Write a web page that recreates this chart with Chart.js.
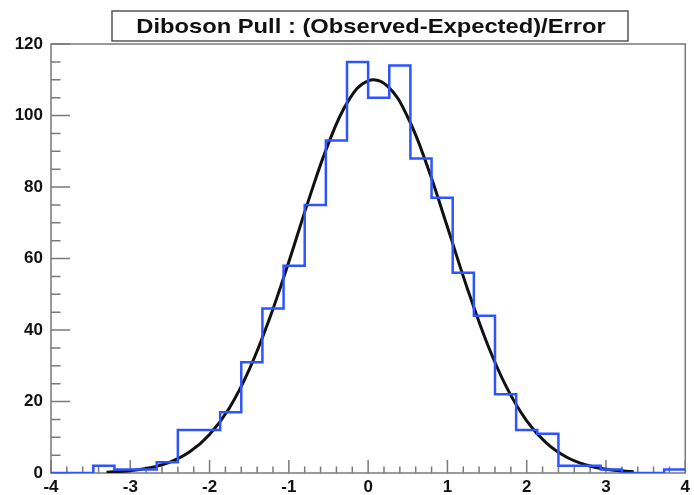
<!DOCTYPE html>
<html>
<head>
<meta charset="utf-8">
<script src="https://cdn.jsdelivr.net/npm/chart.js@4.4.1/dist/chart.umd.min.js"></script>
<style>
  body { margin: 0; background: #fff; }
  canvas { display: block; }
</style>
</head>
<body>
<canvas id="pullChart" width="694" height="495"></canvas>
<script>
// histogram: 30 bins from -4 to 4
const xMin = -4;
const xMax = 4;
const binCounts = [0, 0, 2, 1, 1, 3, 12, 12, 17, 31, 46, 58, 75, 93, 115,
                   105, 114, 88, 77, 56, 44, 22, 12, 11, 2, 2, 1, 0, 0, 1];

// gaussian fit curve
const fitX = [-3.3, -3, -2.75, -2.5, -2.25, -2, -1.75, -1.5, -1.25, -1, -0.75, -0.5, -0.25, 0,
              0.25, 0.5, 0.75, 1, 1.25, 1.5, 1.75, 2, 2.25, 2.5, 2.75, 3, 3.35];
const fitY = [0.24, 0.66, 1.47, 3.06, 5.93, 10.8, 18.2, 28.9, 42.8, 59.1, 76.4, 92.2, 104.1, 109.7,
              108.1, 99.5, 85.6, 68.8, 51.7, 36.3, 23.8, 14.6, 8.35, 4.47, 2.23, 1.04, 0.33];

const xTicks = [-4, -3, -2, -1, 0, 1, 2, 3, 4];
const yTicks = [0, 20, 40, 60, 80, 100, 120];
const title = 'Diboson Pull : (Observed-Expected)/Error';

const axisColor = '#7a7a7a';
const labelFont = { family: '"Liberation Sans", Arial, sans-serif', size: 17, weight: 'bold' };

const binWidth = (xMax - xMin) / binCounts.length;
const histPoints = binCounts.map((c, i) => ({ x: xMin + i * binWidth, y: c }));
histPoints.push({ x: xMax, y: binCounts[binCounts.length - 1] });
const fitPoints = fitX.map((x, i) => ({ x: x, y: fitY[i] }));

// ROOT-style frame with inward ticks
const frameTicks = {
    id: 'frameTicks',
    beforeDatasetsDraw(chart) {
        const { ctx, chartArea: a, scales: { x, y } } = chart;
        ctx.save();
        ctx.strokeStyle = axisColor;
        ctx.lineWidth = 1.5;
        ctx.strokeRect(a.left, a.top, a.right - a.left, a.bottom - a.top);
        ctx.beginPath();
        for (let i = 0; i <= 40; i++) {
            const px = x.getPixelForValue(xMin + i * 0.2);
            const len = i % 5 === 0 ? 13 : 6.5;
            ctx.moveTo(px, a.bottom);
            ctx.lineTo(px, a.bottom - len);
        }
        for (let i = 0; i <= 24; i++) {
            const py = y.getPixelForValue(i * 5);
            const len = i % 4 === 0 ? 19 : 9.5;
            ctx.moveTo(a.left, py);
            ctx.lineTo(a.left + len, py);
        }
        ctx.stroke();
        ctx.restore();
    }
};

const titleBox = {
    id: 'titleBox',
    afterDraw(chart) {
        const ctx = chart.ctx;
        ctx.save();
        ctx.fillStyle = '#fff';
        ctx.fillRect(112, 11, 516, 30);
        ctx.strokeStyle = '#555';
        ctx.lineWidth = 1.5;
        ctx.strokeRect(112, 11, 516, 30);
        ctx.fillStyle = '#111';
        ctx.font = 'bold 21px "Liberation Sans", Arial, sans-serif';
        ctx.textAlign = 'center';
        ctx.textBaseline = 'alphabetic';
        ctx.translate(371, 33);
        ctx.scale(1.13, 1);
        ctx.fillText(title, 0, 0);
        ctx.restore();
    }
};

new Chart(document.getElementById('pullChart'), {
    type: 'line',
    data: {
        datasets: [{
            label: 'Pull',
            data: histPoints,
            stepped: true,
            borderColor: '#2d55ff',
            borderWidth: 2.5,
            pointRadius: 0,
            fill: false
        }, {
            label: 'Fit',
            data: fitPoints,
            borderColor: '#111',
            borderWidth: 3,
            pointRadius: 0,
            tension: 0.4,
            fill: false
        }]
    },
    plugins: [frameTicks, titleBox],
    options: {
        responsive: false,
        animation: false,
        layout: { padding: { top: 44, right: 5, left: 0, bottom: 0 } },
        plugins: {
            legend: { display: false },
            tooltip: { enabled: false }
        },
        scales: {
            x: {
                type: 'linear',
                min: xMin,
                max: xMax,
                afterBuildTicks: s => { s.ticks = xTicks.map(v => ({ value: v })); },
                afterFit: s => { s.height = 22; },
                grid: { display: false, drawTicks: false },
                border: { display: false },
                ticks: { color: '#111', font: labelFont, padding: 4, maxRotation: 0, autoSkip: false }
            },
            y: {
                min: 0,
                max: 120,
                afterBuildTicks: s => { s.ticks = yTicks.map(v => ({ value: v })); },
                afterFit: s => { s.width = 51; },
                grid: { display: false, drawTicks: false },
                border: { display: false },
                ticks: { color: '#111', font: labelFont, padding: 8 }
            }
        }
    }
});
</script>
</body>
</html>
